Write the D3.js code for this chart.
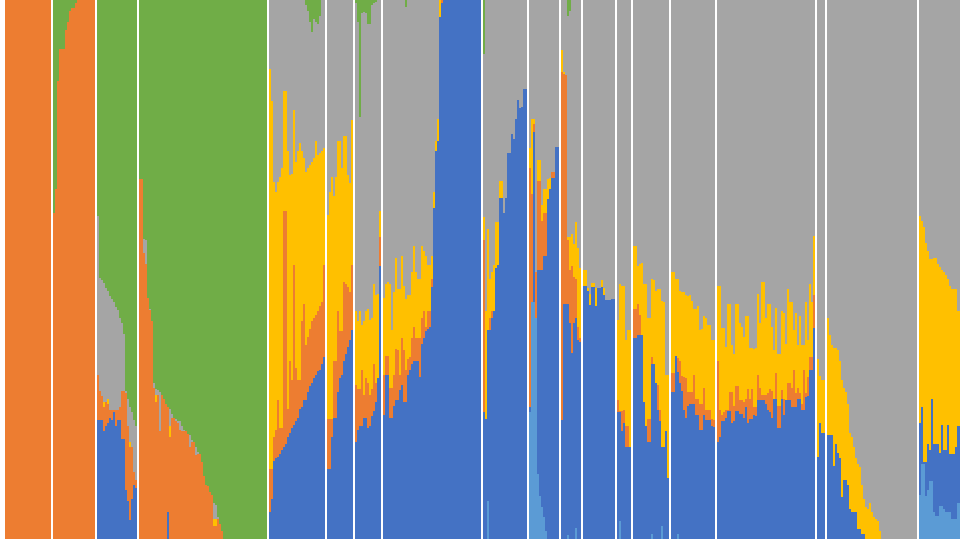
<!DOCTYPE html>
<html><head><meta charset="utf-8">
<script src="https://cdn.jsdelivr.net/npm/d3@7/dist/d3.min.js"></script>
<style>html,body{margin:0;padding:0;background:#fff;overflow:hidden}svg{display:block;filter:blur(0.45px)}</style>
</head><body><div id="chart"></div>
<script>
// Bars per cluster, left to right; one empty slot separates neighbouring clusters.
const groupSizes = [23,21,20,64,28,13,13,49,22,15,10,16,7,18,22,49,4,45,21];

// Cumulative share (%) reached by each series, per cluster. A short or empty list means the series is absent there.
const lightBlueTop = [[],[],[],[],[],[],[],[],
 [0,0,7],[23.5,43.9,43.9,41,12,8,6,4,1.5],
 [0,0,0,0.8,0,0,0,2],[],[0,3.4],[0,0,0,0,0,0,0,0,0,1,0,0,0,0,2.4],[0,0,0,1],[],[],[],
 [8.2,14,14,8,9,10.7,10.7,5,4.3,4.3,6.2,6.2,5.6,5,5,5,3.7,3.7,3.7,6.6,6.6]];

const blueTop = [[],[],
 [22,22,22,20,21,21.5,22.5,22,23.5,21,22,22,18.5,18.5,9,7,3.5,7.5,10,9.5],
 [0,0,0,0,0,0,0,0,0,0,0,0,0,0,5],
 [5,7.5,14.5,15,15.2,15.8,16.5,17,17.7,19,19.6,20.6,21.2,21.9,22.5,24.1,24.4,25.7,25.7,27.3,28.3,28.9,29.8,30.5,31.1,31.4,32.4,33.7],
 [12.9,12.9,19,22.5,22.5,27.3,29.8,30.5,33,34.3,35.6,36.9,38.8],
 [18,20.3,20.9,20.9,22.5,22.5,20.6,20.9,22.8,23.8,25.4,29.8,50.6],
 [23,30.5,30.5,22.5,22.5,24.7,25.7,25.7,27.6,28.6,25.4,25.4,30.5,31.4,32.4,33,33,33,30,36.2,37.2,38.5,39,39.4,46.7,61.4,72,73.9,96.8,99.5,100,100,100,100,100,100,100,100,100,100,100,100,100,100,100,100,100,100,100],
 [23.5,22.2,38.8,38.8,41,42.3,50.3,50.9,63.3,63.3,60.5,63.3,71.6,71.6,75.1,74.2,78,81.5,79.9,80.2,83.4,83.4],
 [24.4,43.9,75.5,41,50,50,50,52.5,52.5,63,65,67,67,72.7,72.7],
 [22,43.6,43.6,43.6,40,34.6,40,41,36.9,36.5],
 [47,47,46,43.5,46.7,46.7,43.3,46.5,46.5,46.7,45.2,44.3,44.3,44.3,44.5,44.5],
 [23.5,23.5,20,21.6,17,17,17],
 [37.2,37.2,37.8,37.8,37.8,25.4,21,18,18,32.4,32.4,29,24,21.9,17,17,20,11.4],
 [27.3,27.3,34,31,29,27.5,24,22.5,24.7,25,25,25,23,23,20.3,20.3,23,22,22,22,21,20.7],
 [18,19,21.9,21.9,22.5,23.8,23.8,21.5,21.9,23.8,23.8,23.2,23.2,22.5,24.5,21.5,22.2,22.2,23,22.8,25.7,25.7,25.7,25.7,25,24,23.5,22.5,26,26,20.6,20.6,26,23,25.7,25.7,25.7,24.4,24.4,24.4,26,26,24,24,26.3,26.5,31.4,31.4,39.1],
 [15.2,21.5,19.6,19.6],
 [19.3,19.3,19.3,13.6,17.7,16,15,7.8,11,11,10,5.6,5,5,5,1.8,1.8,1,1],
 [21.6,24.4,14.2,14.2,17.7,16.5,26,17.7,17.7,17.7,16,21.2,16.5,16.5,21.2,15.8,15.8,15.8,17,21,21]];

const orangeTop = [
 [100,100,100,100,100,100,100,100,100,100,100,100,100,100,100,100,100,100,100,100,100,100,100],
 [100,100,100,100,100,100,100,100,100,100,100,100,100,100,100,100,100,100,100,100,100],
 [30.5,27.5,26.5,24.5,25.5,25,24,24,24,24,24,24.5,27.5,27.5,27,21,17,17,12.5,11],
 [67,67,53,51,45,42.5,40.5,28,25.4,26.7,20,26.7,26,25,24.4,19,22.5,22.5,21.9,21.6,20.3,20,20,20,19.5,17,18,18,15.5,15.8,15.8,14.2,11.7,10,9.8,8.8,8.2,2.4,2.4,3.7,2.7,1.5],
 [13,13,19,20.3,25.7,20.6,20.6,60.8,60.8,24.1,33,29.5,50.9,31.8,29.5,29.5,40.4,43.6,35.9,37.5,39,40.4,41,41.6,42.3,43.2,43.9,50.9],
 [22.2,22.2,22.2,33,33,42.3,38.5,38.5,47.7,47.4,46.7,45.8,50.9],
 [28.6,27.9,27.9,31.4,26.7,29.8,28.9,26.7,27.9,32.4,28.9,29.8,56],
 [30.5,34,34,28,28,30.5,35.3,35,30.5,37.2,35,31.4,33.4,33.7,37.2,39.4,37.2,37.2,37.2,41,42.3,39.4,42.3,42.3,48.3,61.4,72,73.9,96.8,100,100],
 [55.4,0,0,41,42.3],
 [68.8,64,77,49.5,66.5,66.5,59,60.5,60.5,0,0,68,68],
 [86.6,86.3,86,55.4,50,50.6,48.7,48.3,39.4,37.2],
 [],
 [25.7,23.8,23.8,24,21,21,17],
 [42.6,42.6,43.6,41.6,0,0,0,22.2,22.2,33.7,0,0,28.6,24],
 [30.8,30.8,34,33.5,33,30.2,30,29.8,27.3,27.3,27.3,30.5,26,26,25,25,28,24,24,24,22.2,22],
 [33,24,23,23.5,24,24,27.3,27.3,24.7,28.3,28.3,25.7,25.7,25.5,26,27.9,26,27.9,24.4,24.4,30.5,28,26.7,26.7,26.7,27,27.9,27.5,26,30.8,24.7,24.7,27.6,26,25.7,28.9,28.9,28,31.4,27,28,27,25,31.4,27,30,33.7,33.7,45.2],
 [],[],[]];

const yellowTop = [[],[],
 [0,0,0,25.5,0,26,0,0,0,0,0,0,0,0,0,0,18],
 [0,0,0,0,0,0,0,0,26.7,0,0,0,0,0,0,21,0,0,0,0,0,0,0,0,0,0,0,0,0,0,0,0,0,0,0,0,0,3.7,3.7],
 [87.2,81.2,66.2,64.3,66.2,67.2,68.8,83.1,83.1,71.9,67.5,67.8,79.6,70,71.9,73.5,71.9,70.7,68.1,68.8,69.4,70,70.7,73.9,71.3,71.6,71.9,72.6],
 [60.1,64.3,67.2,63.6,67.2,73.9,73.9,68.8,74.8,74.8,67.5,66,77.7],
 [42.3,40.4,42.3,39.7,40.4,42.3,42.6,40.7,41,47.4,45.2,45.5,60.8],
 [44.8,47.4,47.7,47.4,38.8,45.8,52.2,46.4,46.4,52.5,47,44.5,45.2,45.2,49.6,54.4,49.6,48.3,48.3,54.4,53.4,52.5,50.9,50.9,52.5,64.3,73.9,78,100,100,100],
 [59.8,42.3,57.6,48.3,49.6,50.9,58.9,58.9,66.5,66.5],
 [72.6,78,78,49.5,70.3,70.3,62,65,65,66.8,67,68,68],
 [90.8,86.6,86,56,56,56.6,54.7,58.9,54,50.3],
 [50,50,46.5,45.5,47.5,47.5,46.5,46.5,46.5,48,46.5],
 [40.7,47.4,47,47,36.9,38.8,38.8],
 [54.4,54.4,50.6,51,51.2,47.4,47.4,41,41,48.3,48,46,46.4,46.4,44.2,44,30.5,30.5],
 [49.6,49.6,48.3,48.3,46,45.8,45.8,45.2,45,45.2,44.2,42.6,42.6,43.2,38.8,39,41.3,41,39.7,39.7,36.9,36.9],
 [47,47,39.1,39.1,35.6,43.6,43.6,36,34.3,43.6,43.6,40,39.4,37.5,41.3,41.3,35.5,35.5,35.3,35.5,45.5,40,47.7,47.7,41,43.6,43.6,39.4,35,42.9,34.3,34.3,42.3,42,36.2,46.4,44,44,38.8,42,36,41.3,36,36,43.9,37,47.4,44,56.3],
 [33.4,30.2,29.5,29.5],
 [41,37.8,36,35.5,35.5,35,33,29.5,28,27.3,25,19.6,19,17,15,14,13.3,10,7.5,6,5.6,6.6,5,4,3.7,3.3,1.5],
 [60,59,57.9,55,53.5,51.9,52,52.2,52.2,51,50.5,50,49.6,49,48.3,47,46.4,46.4,46.4,42.3,42.3]];

// Green share (%) hanging from the top of each bar; grey is whatever remains between yellow and green.
const greenShare = [[],
 [39.5,35,15,9,9,9,5.5,4,2,1.5,1.5,0.5],
 [40,51.5,52,52.5,53.5,54,55,55.5,56,57,57.5,59,60,62,72.5,74,75.5,76.5,78,79],
 [33.2,33.2,44.3,44.6,55.2,57.4,59.6,71.1,72.1,72.4,72.7,73.3,74,75,75.6,75.9,76.8,77.5,77.8,78.1,78.1,79.1,79.7,80,80.5,80.7,81.6,82,83,83.9,84.2,85.8,88.3,90,90.2,91.2,91.8,93.4,93.7,96,97.3,98.5,100,100,100,100,100,100,100,100,100,100,100,100,100,100,100,100,100,100,100,100,100,100],
 [0,0,0,0,0,0,0,0,0,0,0,0,0,0,0,0,0,0,1,2,4,6,3.5,4,4.5,3],
 [],
 [0.6,4,21.7,2.5,2.2,2.5,4.5,4.5,1,0.6,0.3],
 [0,0,0,0,0,0,0,0,0,0,0,1.3],
 [10],[],[0,0,0,3,2],[],[],[],[],[],[],[],[]];

const seriesKeys = ["lightBlue","blue","orange","yellow","gray","green"];
const seriesColors = ["#5B9BD5","#4472C4","#ED7D31","#FFC000","#A5A5A5","#70AD47"];

const W = 960, H = 539, slot = 2, left = 5;
const rows = [];
let slotIndex = 0;
groupSizes.forEach((size, g) => {
  for (let i = 0; i < size; i++) {
    const green = greenShare[g][i] || 0, cap = 100 - green;
    const lb = Math.min(lightBlueTop[g][i] || 0, cap);
    const bl = Math.min(Math.max(blueTop[g][i] || 0, lb), cap);
    const or = Math.min(Math.max(orangeTop[g][i] || 0, bl), cap);
    const ye = Math.min(Math.max(yellowTop[g][i] || 0, or), cap);
    rows.push({slot: slotIndex++, lightBlue: lb, blue: bl - lb, orange: or - bl, yellow: ye - or, gray: cap - ye, green});
  }
  slotIndex++;
});

const x = d3.scaleBand().domain(d3.range(slotIndex)).range([left, left + slot * slotIndex]).padding(0);
const y = d3.scaleLinear().domain([0, 100]).range([H, 0]);
const color = d3.scaleOrdinal(seriesKeys, seriesColors);

const svg = d3.select("#chart").append("svg").attr("width", W).attr("height", H).attr("viewBox", [0,0,W,H]);
svg.selectAll("g").data(d3.stack().keys(seriesKeys)(rows)).join("g")
  .attr("fill", d => color(d.key)).attr("shape-rendering","crispEdges")
  .selectAll("rect").data(d => d).join("rect")
  .attr("x", d => x(d.data.slot)).attr("width", x.bandwidth())
  .attr("y", d => y(d[1])).attr("height", d => Math.max(0, y(d[0]) - y(d[1])));
</script></body></html>
